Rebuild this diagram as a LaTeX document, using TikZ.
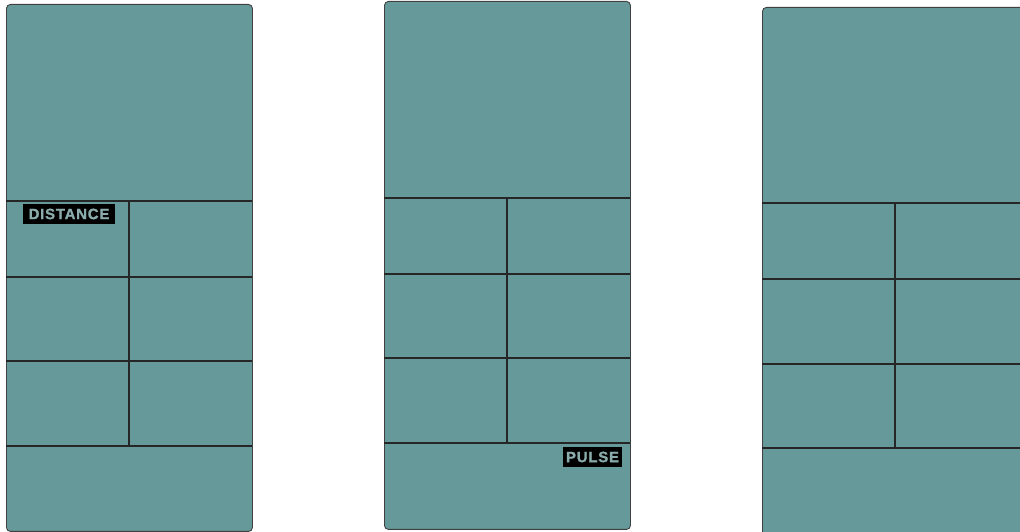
\documentclass[tikz,border=0pt]{standalone}
\usepackage{fontspec}
\setmainfont{Liberation Sans}
\begin{document}
\begin{tikzpicture}[x=1pt,y=1pt,
  panel/.style={draw=black!75, line width=0.9pt, fill=panelteal, rounded corners=4pt},
  grid/.style={draw=black!85, line width=1.1pt},
  tag/.style={fill=black, text=tagtext, inner sep=0pt, font=\fontsize{15}{15}\bfseries\addfontfeature{LetterSpace=5,FakeBold=1.2}, anchor=center}
]
\definecolor{panelteal}{RGB}{102,153,153}
\definecolor{tagtext}{RGB}{138,172,172}
\useasboundingbox (0,0) rectangle (1020,532);
\begin{scope}
\clip (0,0) rectangle (1020,532);
% panel 1
\node[panel, minimum width=246pt, minimum height=527pt, anchor=north west, inner sep=0pt] (p1) at (6,528) {};
\draw[grid] (6,331) -- (252,331);
\draw[grid] (6,255) -- (252,255);
\draw[grid] (6,171) -- (252,171);
\draw[grid] (6,86) -- (252,86);
\draw[grid] (129,331) -- (129,86);
% panel 2
\node[panel, minimum width=246pt, minimum height=528pt, anchor=north west, inner sep=0pt] (p2) at (384,531) {};
\draw[grid] (384,334) -- (630,334);
\draw[grid] (384,258) -- (630,258);
\draw[grid] (384,174) -- (630,174);
\draw[grid] (384,89) -- (630,89);
\draw[grid] (507,334) -- (507,89);
% panel 3
\node[panel, minimum width=270pt, minimum height=540pt, anchor=north west, inner sep=0pt] (p3) at (762,525) {};
\draw[grid] (762,329) -- (1030,329);
\draw[grid] (762,253) -- (1030,253);
\draw[grid] (762,168) -- (1030,168);
\draw[grid] (762,84) -- (1030,84);
\draw[grid] (895,329) -- (895,84);
\end{scope}
% tags
\node[tag, minimum width=92pt, minimum height=20pt] (dist) at (69,318) {DISTANCE};
\node[tag, minimum width=59pt, minimum height=20pt] (pulse) at (592.5,75) {PULSE};
\end{tikzpicture}
\end{document}
